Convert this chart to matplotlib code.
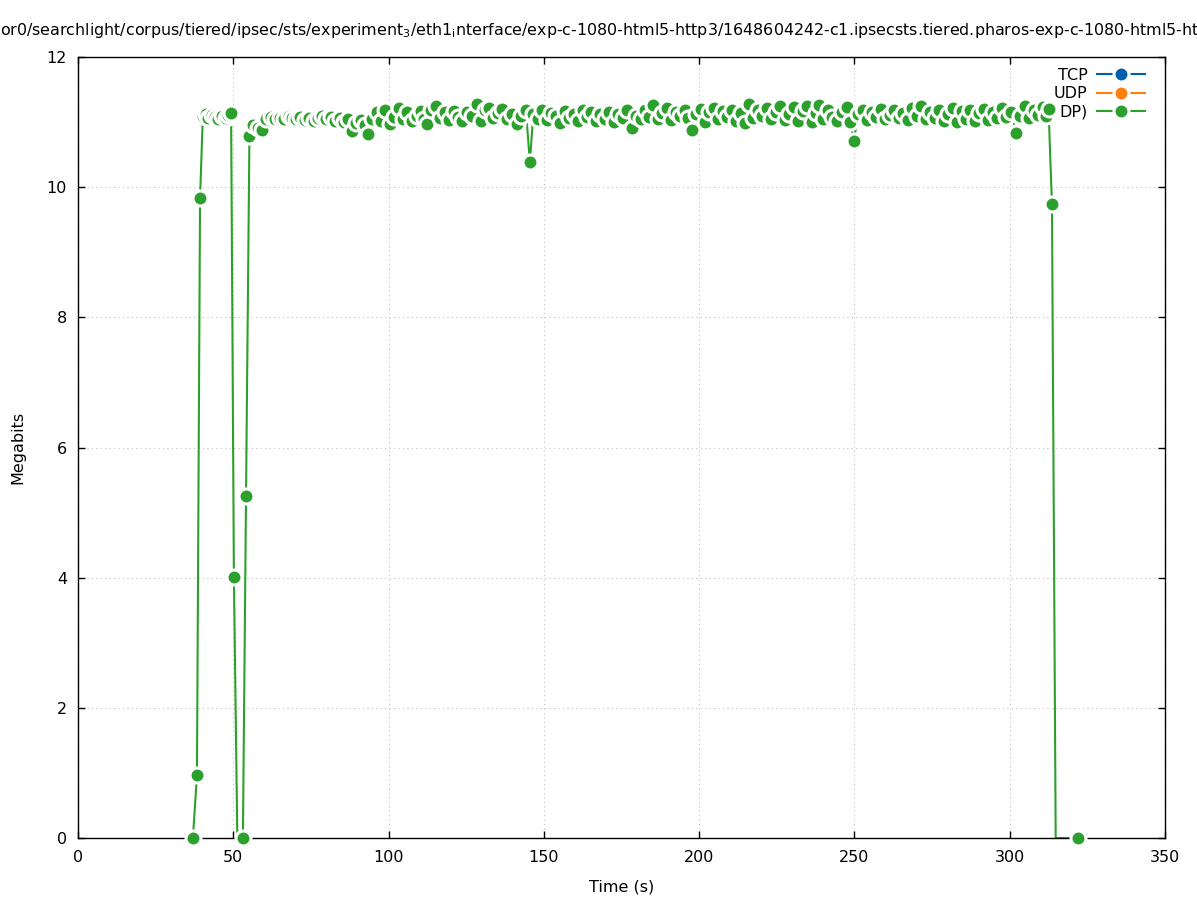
import matplotlib
matplotlib.use("Agg")
import matplotlib.pyplot as plt
from matplotlib.lines import Line2D

# throughput samples (time in s, Megabits)
time_s = [
    37.0, 38.3, 39.3, 40.2, 41.1, 42.0, 43.0, 44.1, 45.2, 46.4,
    47.5, 48.4, 49.3, 50.2, 51.3, 53.1, 54.1, 55.2, 56.4, 57.8,
    59.2, 60.6, 62.0, 63.5, 65.0, 66.4, 67.9, 69.0, 70.2, 71.6,
    73.0, 74.4, 75.9, 77.3, 78.6, 80.0, 81.5, 82.9, 84.3, 85.6,
    87.0, 88.2, 89.6, 91.0, 92.3, 93.4, 94.8, 96.2, 97.6, 99.0,
    100.5, 101.9, 103.3, 104.6, 106.0, 107.5, 109.0, 110.4, 111.5, 112.4,
    113.8, 115.3, 116.7, 118.1, 119.6, 121.0, 122.4, 123.8, 125.2, 126.8,
    128.5, 129.8, 131.0, 132.3, 133.7, 135.1, 136.6, 138.0, 139.6, 141.3,
    142.8, 144.2, 145.5, 146.6, 148.0, 149.5, 151.0, 152.4, 153.8, 155.3,
    156.7, 158.1, 159.6, 161.0, 162.5, 163.9, 165.3, 166.8, 168.2, 169.6,
    171.1, 172.5, 174.0, 175.4, 176.9, 178.4, 179.8, 181.2, 182.7, 184.0,
    185.1, 186.6, 188.0, 189.5, 191.0, 192.4, 193.9, 195.3, 196.5, 197.7,
    199.0, 200.5, 201.9, 203.3, 204.8, 206.2, 207.7, 209.1, 210.5, 212.0,
    213.4, 214.8, 216.0, 217.5, 218.9, 220.3, 221.8, 223.2, 224.7, 226.1,
    227.5, 229.0, 230.4, 231.9, 233.3, 234.7, 236.2, 237.6, 238.6, 240.0,
    241.5, 242.9, 244.4, 245.9, 247.6, 248.7, 249.8, 251.2, 252.6, 254.1,
    255.5, 257.0, 258.4, 259.9, 261.3, 262.8, 264.2, 265.7, 267.1, 268.6,
    270.0, 271.5, 272.9, 274.3, 275.8, 277.2, 278.7, 280.1, 281.6, 283.0,
    284.5, 285.9, 287.3, 288.8, 290.2, 291.7, 293.1, 294.6, 296.0, 297.5,
    298.9, 300.4, 302.0, 303.4, 304.8, 306.2, 307.7, 309.1, 310.6, 311.6,
    312.5, 313.6, 314.8, 322.0,
]
total_mbits = [
    0.00, 0.97, 9.83, 11.10, 11.13, 11.06, 11.11, 11.08, 11.05, 11.10,
    11.07, 11.11, 11.14, 4.01, 0.00, 0.00, 5.26, 10.78, 10.95, 10.91,
    10.88, 11.05, 11.08, 11.04, 11.07, 11.05, 11.09, 11.06, 11.05, 11.08,
    11.03, 11.06, 11.02, 11.07, 11.10, 11.04, 11.08, 11.02, 11.06, 11.00,
    11.05, 10.86, 10.98, 11.03, 10.95, 10.82, 11.04, 11.15, 11.02, 11.18,
    10.97, 11.08, 11.22, 11.05, 11.15, 11.02, 11.10, 11.17, 11.04, 10.97,
    11.18, 11.25, 11.06, 11.15, 11.03, 11.17, 11.08, 11.01, 11.16, 11.10,
    11.28, 11.02, 11.19, 11.22, 11.06, 11.14, 11.20, 11.04, 11.12, 10.97,
    11.10, 11.19, 10.39, 11.12, 11.05, 11.18, 11.03, 11.14, 11.09, 10.99,
    11.17, 11.06, 11.13, 11.02, 11.18, 11.08, 11.15, 11.01, 11.12, 11.05,
    11.16, 11.00, 11.13, 11.07, 11.18, 10.91, 11.10, 11.04, 11.19, 11.08,
    11.26, 11.05, 11.14, 11.22, 11.03, 11.16, 11.09, 11.18, 11.06, 10.88,
    11.12, 11.20, 11.00, 11.15, 11.21, 11.04, 11.17, 11.08, 11.19, 11.02,
    11.14, 10.99, 11.28, 11.06, 11.18, 11.10, 11.21, 11.04, 11.16, 11.24,
    11.03, 11.12, 11.23, 11.01, 11.17, 11.25, 11.00, 11.14, 11.26, 11.05,
    11.18, 11.08, 11.02, 11.15, 11.23, 11.00, 10.71, 11.12, 11.19, 11.03,
    11.16, 11.08, 11.20, 11.05, 11.11, 11.18, 11.07, 11.14, 11.03, 11.21,
    11.10, 11.24, 11.04, 11.16, 11.07, 11.19, 11.01, 11.13, 11.22, 11.00,
    11.17, 11.05, 11.19, 11.02, 11.14, 11.20, 11.03, 11.16, 11.06, 11.22,
    11.08, 11.15, 10.83, 11.10, 11.25, 11.06, 11.18, 11.11, 11.23, 11.09,
    11.20, 9.74, 0.00, 0.00,
]
# samples drawn without a point symbol in the original
no_marker_t = [51.3, 314.8]

series_labels = ["TCP", "UDP", "DP)"]
series_colors = ["#0060ad", "#ff7f0e", "#2ca02c"]

# the original title is wider than the image and runs off both edges
title = ("or0/searchlight/corpus/tiered/ipsec/sts/experiment$_3$/eth1$_\\mathrm{i}$nterface/"
         "exp-c-1080-html5-http3/1648604242-c1.ipsecsts.tiered.pharos-exp-c-1080-html5-http3")

plt.rcParams['font.family'] = ['DejaVu Sans']
fs = 11.5

fig = plt.figure(figsize=(11.97, 9), dpi=100)
ax = fig.add_axes([78 / 1197, 62 / 900, (1165 - 78) / 1197, (838 - 57) / 900])

mstyle = dict(marker='o', markersize=10.8, markeredgecolor='white', markeredgewidth=2.2)
green = series_colors[2]

# line under the frame, points on top of it
ax.plot(time_s, total_mbits, color=green, linewidth=1.5, zorder=2)
mx = [t for t in time_s if t not in no_marker_t]
my = [v for t, v in zip(time_s, total_mbits) if t not in no_marker_t]
ax.plot(mx, my, linestyle='none', markerfacecolor=green, clip_on=False, zorder=3, **mstyle)

ax.set_xlim(0, 350)
ax.set_ylim(0, 12)
ax.set_xticks(range(0, 351, 50))
ax.set_yticks(range(0, 13, 2))
ax.tick_params(direction='in', length=5, width=1, top=True, right=True, labelsize=fs)
ax.tick_params(axis='x', pad=9)
ax.tick_params(axis='y', pad=8)
ax.grid(True, color='#c0c0c0', linestyle=(0, (1, 3)), linewidth=0.8)
for s in ax.spines.values():
    s.set_linewidth(1)

ax.set_xlabel("Time (s)", fontsize=fs, labelpad=10)
ax.set_ylabel("Megabits", fontsize=fs, labelpad=15)
fig.text(0.0, 1 - 30 / 900, title, fontsize=11.42, ha='left', va='center')

handles = [Line2D([], [], color=c, markerfacecolor=c, linewidth=1.5, **mstyle) for c in series_colors]
ax.legend(handles, series_labels, loc='upper right', frameon=False, markerfirst=False,
          fontsize=fs, handlelength=3.0, handletextpad=0.6, labelspacing=0.2,
          bbox_to_anchor=(1 - 20 / 1087, 1 - 11 / 781), borderaxespad=0, borderpad=0)

fig.savefig("out.png", dpi=100)
